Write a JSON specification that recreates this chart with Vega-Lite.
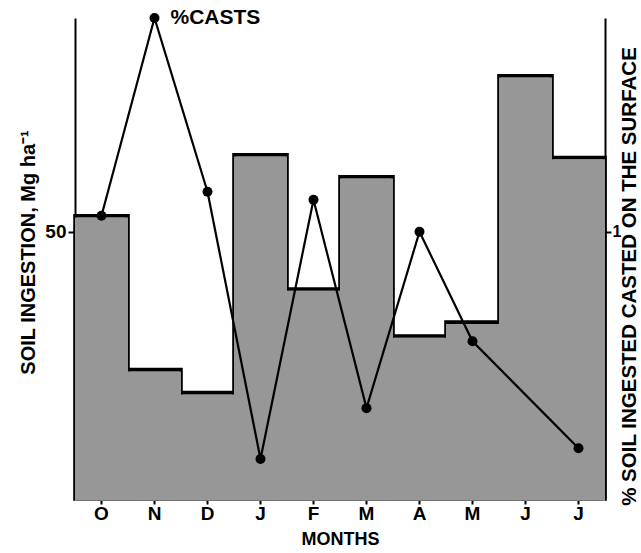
{
  "$schema": "https://vega.github.io/schema/vega-lite/v6.json",
  "autosize": {"type": "none"},
  "padding": {"left": 75, "top": 18, "right": 36, "bottom": 54},
  "width": 530,
  "height": 481,
  "background": "white",
  "config": {
    "view": {"stroke": null},
    "font": "Liberation Sans",
    "axis": {
      "labelFont": "Liberation Sans",
      "titleFont": "Liberation Sans",
      "labelFontWeight": "bold",
      "titleFontWeight": "bold",
      "labelColor": "black",
      "titleColor": "black",
      "domainColor": "black",
      "tickColor": "black",
      "grid": false
    }
  },
  "data": {
    "values": [
      {"month": "Oct", "soil": 53.0, "casts": 1.06},
      {"month": "Nov", "soil": 24.2, "casts": 1.80, "note": "%CASTS"},
      {"month": "Dec", "soil": 19.9, "casts": 1.15},
      {"month": "Jan", "soil": 64.4, "casts": 0.15},
      {"month": "Feb", "soil": 39.3, "casts": 1.12},
      {"month": "Mar", "soil": 60.3, "casts": 0.34},
      {"month": "Apr", "soil": 30.5, "casts": 1.0},
      {"month": "May", "soil": 33.1, "casts": 0.59},
      {"month": "Jun", "soil": 79.2, "casts": null},
      {"month": "Jul", "soil": 63.9, "casts": 0.19}
    ]
  },
  "encoding": {
    "x": {
      "field": "month",
      "type": "ordinal",
      "sort": null,
      "scale": {"paddingInner": 0, "paddingOuter": 0},
      "axis": {
        "title": "MONTHS",
        "labelExpr": "slice(datum.label, 0, 1)",
        "labelAngle": 0,
        "labelFontSize": 19,
        "labelPadding": 0,
        "tickSize": 5,
        "tickWidth": 2,
        "domainWidth": 2.5,
        "titleFontSize": 18,
        "titleY": 40,
        "titleBaseline": "middle"
      }
    }
  },
  "layer": [
    {
      "encoding": {
        "y": {
          "field": "soil",
          "type": "quantitative",
          "scale": {"domain": [0, 90], "nice": false},
          "axis": {
            "title": "SOIL INGESTION, Mg ha⁻¹",
            "values": [50],
            "tickSize": 7,
            "tickWidth": 2,
            "domainWidth": 2,
            "labelPadding": 2,
            "labelFontSize": 19,
            "titleFontSize": 20,
            "titleAngle": 270,
            "titleX": -47,
            "titleY": 234,
            "titleBaseline": "middle"
          }
        }
      },
      "layer": [
        {"mark": {"type": "bar", "fill": "#979797", "stroke": "black", "strokeWidth": 3.6}},
        {"mark": {"type": "bar", "fill": "#979797", "strokeWidth": 0, "yOffset": 1.8}}
      ]
    },
    {
      "transform": [{"filter": "isValid(datum.casts)"}],
      "encoding": {
        "y": {
          "field": "casts",
          "type": "quantitative",
          "scale": {"domain": [0, 1.8], "nice": false},
          "axis": {
            "orient": "right",
            "title": "% SOIL INGESTED CASTED ON THE SURFACE",
            "values": [1],
            "tickSize": 6,
            "tickWidth": 2,
            "domainWidth": 2,
            "labelPadding": 1,
            "labelFontSize": 16,
            "titleFontSize": 20.5,
            "titleAngle": 270,
            "titleX": 24,
            "titleY": 258,
            "titleBaseline": "middle"
          }
        }
      },
      "layer": [
        {"mark": {"type": "line", "color": "black", "strokeWidth": 2.2}},
        {"mark": {"type": "point", "filled": true, "color": "black", "size": 100, "opacity": 1}},
        {
          "transform": [{"filter": "isValid(datum.note)"}],
          "mark": {"type": "text", "align": "left", "baseline": "middle", "dx": 16, "fontSize": 21, "fontWeight": "bold", "font": "Liberation Sans", "color": "black"},
          "encoding": {"text": {"field": "note"}}
        }
      ]
    }
  ],
  "resolve": {"scale": {"y": "independent"}}
}
